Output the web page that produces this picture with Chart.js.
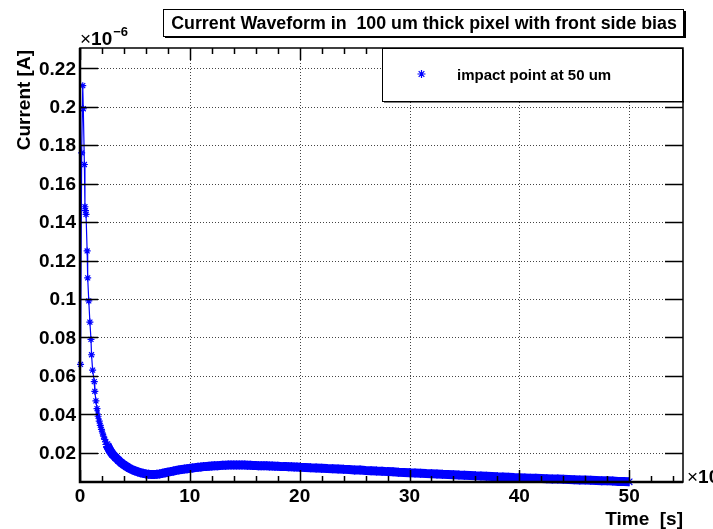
<!DOCTYPE html>
<html>
<head>
<meta charset="utf-8">
<script src="https://cdn.jsdelivr.net/npm/chart.js@4"></script>
<style>
  html, body { margin: 0; padding: 0; background: #fff; }
  #wrap { width: 713px; height: 529px; }
</style>
</head>
<body>
<div id="wrap"><canvas id="waveChart" width="713" height="529"></canvas></div>
<script>
// values as shown on the axes: time in units of 1e-9 s, current in units of 1e-6 A
const chartTitle = "Current Waveform in  100 um thick pixel with front side bias";
const seriesLabel = "impact point at 50 um";

const times = [
  0.05, 0.15, 0.25, 0.30, 0.40, 0.45, 0.50, 0.55, 0.65, 0.70,
  0.80, 0.90, 1.00, 1.05, 1.15, 1.30, 1.35, 1.45, 1.55, 1.65,
  1.75, 1.85, 1.95, 2.05, 2.15, 2.25, 2.35, 2.45, 2.55, 2.65,
  2.75, 2.85, 2.95,
  3.25, 3.50, 3.75, 4.00, 4.25, 4.50, 4.75, 5.00, 5.25, 5.50,
  5.75, 6.00, 6.25, 6.50, 6.75, 7.00, 7.25, 7.50, 7.75, 8.00,
  8.25, 8.50, 8.75, 9.00, 9.25, 9.50, 9.75, 10.0, 10.25, 10.5,
  10.75, 11.0, 11.25, 11.5, 11.75, 12.0, 12.25, 12.5, 12.75, 13.0,
  13.25, 13.5, 13.75, 14.0, 14.25, 14.5, 14.75, 15.0, 15.25, 15.5,
  15.75, 16.0, 16.25, 16.5, 16.75, 17.0, 17.25, 17.5, 17.75, 18.0,
  18.25, 18.5, 18.75, 19.0, 19.25, 19.5, 19.75, 20.0,
  20.5, 21.0, 21.5, 22.0, 22.5, 23.0, 23.5, 24.0, 24.5, 25.0,
  25.5, 26.0, 26.5, 27.0, 27.5, 28.0, 28.5, 29.0, 29.5, 30.0,
  30.5, 31.0, 31.5, 32.0, 32.5, 33.0, 33.5, 34.0, 34.5, 35.0,
  35.5, 36.0, 36.5, 37.0, 37.5, 38.0, 38.5, 39.0, 39.5, 40.0,
  40.5, 41.0, 41.5, 42.0, 42.5, 43.0, 43.5, 44.0, 44.5, 45.0,
  45.5, 46.0, 46.5, 47.0, 47.5, 48.0, 48.5, 49.0, 49.5, 50.0
];

const currents = [
  0.066, 0.176, 0.211, 0.199, 0.170, 0.148, 0.146, 0.144, 0.125, 0.111,
  0.099, 0.088, 0.079, 0.071, 0.063, 0.057, 0.052, 0.047, 0.043, 0.039,
  0.0365, 0.0343, 0.0322, 0.0303, 0.0286, 0.0270, 0.0256, 0.0243, 0.0231, 0.0220,
  0.0210, 0.0201, 0.0193,
  0.0175, 0.0161, 0.0148, 0.0137, 0.0128, 0.0119, 0.0112, 0.0106, 0.0101, 0.0096,
  0.0093, 0.0090, 0.0088, 0.0087, 0.0087, 0.0088, 0.0090, 0.0093, 0.0096, 0.0099,
  0.0102, 0.0105, 0.0108, 0.0111, 0.0113, 0.0115, 0.0117, 0.0119, 0.0121, 0.0123,
  0.0125, 0.0126, 0.0128, 0.0129, 0.0130, 0.0131, 0.0132, 0.0133, 0.0134, 0.0135,
  0.0135, 0.0136, 0.0136, 0.0136, 0.0136, 0.0136, 0.0136, 0.0136, 0.0135, 0.0135,
  0.0134, 0.0134, 0.0133, 0.0133, 0.0132, 0.0132, 0.0131, 0.0131, 0.0130, 0.0130,
  0.0129, 0.0128, 0.0128, 0.0127, 0.0127, 0.0126, 0.0126, 0.0125,
  0.0124, 0.0122, 0.0121, 0.0120, 0.0118, 0.0117, 0.0116, 0.0114, 0.0113, 0.0111,
  0.0110, 0.0108, 0.0107, 0.0105, 0.0104, 0.0102, 0.0101, 0.0099, 0.0098, 0.0096,
  0.0095, 0.0094, 0.0092, 0.0091, 0.0090, 0.0088, 0.0087, 0.0086, 0.0084, 0.0083,
  0.0082, 0.0080, 0.0079, 0.0078, 0.0077, 0.0075, 0.0074, 0.0073, 0.0071, 0.0070,
  0.0069, 0.0068, 0.0067, 0.0066, 0.0065, 0.0064, 0.0063, 0.0062, 0.0061, 0.0060,
  0.0059, 0.0058, 0.0057, 0.0056, 0.0055, 0.0054, 0.0053, 0.0051, 0.0050, 0.0049
];

const xTicks = [0, 10, 20, 30, 40, 50];
const xMinorTicks = [2, 4, 6, 8, 12, 14, 16, 18, 22, 24, 26, 28, 32, 34, 36, 38, 42, 44, 46, 48, 52, 54];
const yTicks = [0.02, 0.04, 0.06, 0.08, 0.1, 0.12, 0.14, 0.16, 0.18, 0.2, 0.22];
const yTickLabels = ["0.02", "0.04", "0.06", "0.08", "0.1", "0.12", "0.14", "0.16", "0.18", "0.2", "0.22"];

const FONT = '"Liberation Sans", Arial, Helvetica, sans-serif';
const BLUE = '#0000ff';

const points = times.map((t, i) => ({ x: t, y: currents[i] }));

function drawStar(ctx, x, y, r) {
  ctx.beginPath();
  ctx.moveTo(x - r, y); ctx.lineTo(x + r, y);
  ctx.moveTo(x, y - r); ctx.lineTo(x, y + r);
  const d = r * 0.707;
  ctx.moveTo(x - d, y - d); ctx.lineTo(x + d, y + d);
  ctx.moveTo(x - d, y + d); ctx.lineTo(x + d, y - d);
  ctx.stroke();
}

// ROOT style frame, grid, inward ticks, labels, title and legend
const rootFrame = {
  id: 'rootFrame',
  beforeDatasetsDraw(chart) {
    const { ctx, chartArea: a, scales: { x, y } } = chart;
    ctx.save();
    ctx.strokeStyle = '#444';
    ctx.lineWidth = 1;
    ctx.setLineDash([1, 2]);
    xTicks.forEach(v => {
      if (v === 0) return;
      const px = Math.round(x.getPixelForValue(v)) + 0.5;
      ctx.beginPath(); ctx.moveTo(px, a.top); ctx.lineTo(px, a.bottom); ctx.stroke();
    });
    yTicks.forEach(v => {
      const py = Math.round(y.getPixelForValue(v)) + 0.5;
      ctx.beginPath(); ctx.moveTo(a.left, py); ctx.lineTo(a.right, py); ctx.stroke();
    });
    ctx.restore();
  },
  afterDatasetsDraw(chart) {
    const { ctx, chartArea: a, scales: { x, y } } = chart;
    ctx.save();
    ctx.strokeStyle = '#000';
    ctx.fillStyle = '#000';

    // frame
    ctx.lineWidth = 1.5;
    ctx.strokeRect(a.left, a.top, a.right - a.left, a.bottom - a.top);
    ctx.lineWidth = 2.5;
    ctx.beginPath();
    ctx.moveTo(a.left, a.top); ctx.lineTo(a.left, a.bottom); ctx.lineTo(a.right, a.bottom);
    ctx.stroke();

    // ticks
    ctx.lineWidth = 1.5;
    xTicks.forEach(v => {
      const px = Math.round(x.getPixelForValue(v)) + 0.5;
      ctx.beginPath();
      ctx.moveTo(px, a.bottom); ctx.lineTo(px, a.bottom - 12);
      ctx.moveTo(px, a.top); ctx.lineTo(px, a.top + 12);
      ctx.stroke();
    });
    xMinorTicks.forEach(v => {
      const px = Math.round(x.getPixelForValue(v)) + 0.5;
      ctx.beginPath();
      ctx.moveTo(px, a.bottom); ctx.lineTo(px, a.bottom - 6);
      ctx.moveTo(px, a.top); ctx.lineTo(px, a.top + 6);
      ctx.stroke();
    });
    yTicks.forEach(v => {
      const py = Math.round(y.getPixelForValue(v)) + 0.5;
      ctx.beginPath();
      ctx.moveTo(a.left, py); ctx.lineTo(a.left + 18, py);
      ctx.moveTo(a.right, py); ctx.lineTo(a.right - 18, py);
      ctx.stroke();
    });

    // tick labels
    ctx.font = 'bold 19px ' + FONT;
    ctx.textAlign = 'right';
    ctx.textBaseline = 'middle';
    yTicks.forEach((v, i) => {
      ctx.fillText(yTickLabels[i], a.left - 4, y.getPixelForValue(v) + 1);
    });
    ctx.textAlign = 'center';
    ctx.textBaseline = 'top';
    xTicks.forEach(v => {
      ctx.fillText(String(v), x.getPixelForValue(v), a.bottom + 5);
    });

    // axis titles
    ctx.textAlign = 'right';
    ctx.textBaseline = 'alphabetic';
    ctx.fillText('Time  [s]', a.right, 525);
    ctx.save();
    ctx.translate(30, 50);
    ctx.rotate(-Math.PI / 2);
    ctx.fillText('Current [A]', 0, 0);
    ctx.restore();

    // exponents
    ctx.textAlign = 'left';
    ctx.font = '19px ' + FONT;
    ctx.fillText('\u00d7', a.left, 45);
    let w = ctx.measureText('\u00d7').width;
    ctx.font = 'bold 19px ' + FONT;
    ctx.fillText('10', a.left + w, 45);
    let w2 = ctx.measureText('10').width;
    ctx.font = 'bold 13px ' + FONT;
    ctx.fillText('\u22126', a.left + w + w2 + 1, 36);

    ctx.font = '19px ' + FONT;
    ctx.fillText('\u00d7', a.right + 4, a.bottom + 1);
    w = ctx.measureText('\u00d7').width;
    ctx.font = 'bold 19px ' + FONT;
    ctx.fillText('10', a.right + 4 + w, a.bottom + 1);
    w2 = ctx.measureText('10').width;
    ctx.font = 'bold 13px ' + FONT;
    ctx.fillText('\u22129', a.right + 5 + w + w2, a.bottom - 8);

    // title box
    ctx.fillStyle = '#fff';
    ctx.fillRect(163, 9, 521, 28);
    ctx.fillStyle = '#000';
    ctx.fillRect(165, 36, 521, 2);
    ctx.fillRect(684, 11, 2, 27);
    ctx.lineWidth = 1;
    ctx.strokeRect(163.5, 9.5, 520, 27);
    ctx.font = 'bold 15px ' + FONT;
    const tw = ctx.measureText(chartTitle).width;
    const ts = 15 * 506 / tw;
    ctx.font = 'bold ' + ts.toFixed(2) + 'px ' + FONT;
    ctx.textAlign = 'center';
    ctx.fillText(chartTitle, 424, 29);

    // legend box
    ctx.fillStyle = '#fff';
    ctx.fillRect(382, 48, 301, 54);
    ctx.fillStyle = '#000';
    ctx.fillRect(384, 101, 300, 1.5);
    ctx.fillRect(682, 50, 1.5, 52);
    ctx.strokeRect(382.5, 48.5, 300, 53);
    ctx.strokeStyle = BLUE;
    ctx.lineWidth = 1.2;
    drawStar(ctx, 421.5, 74, 4);
    ctx.fillStyle = '#000';
    ctx.textAlign = 'left';
    ctx.font = 'bold 15px ' + FONT;
    ctx.fillText(seriesLabel, 457, 80);
    ctx.restore();
  }
};

new Chart(document.getElementById('waveChart'), {
  type: 'scatter',
  data: {
    datasets: [{
      label: seriesLabel,
      data: points,
      showLine: true,
      borderColor: BLUE,
      backgroundColor: BLUE,
      borderWidth: 1.2,
      pointStyle: 'star',
      pointRadius: c => (c.parsed && c.parsed.x >= 2.4 ? 4.5 : 3.5),
      pointBorderWidth: 1.2,
      pointBorderColor: BLUE,
      clip: 8,
      segment: {
        borderWidth: c => (c.p0.parsed.x >= 2.4 ? 9 : (c.p0.parsed.x >= 1.5 ? 4 : 1.2))
      }
    }]
  },
  options: {
    responsive: false,
    animation: false,
    layout: { padding: { left: 80, right: 30, top: 48, bottom: 47 } },
    plugins: { legend: { display: false }, tooltip: { enabled: false } },
    scales: {
      x: { type: 'linear', display: false, min: 0, max: 54.9 },
      y: { type: 'linear', display: false, min: 0.0048, max: 0.2306 }
    }
  },
  plugins: [rootFrame]
});
</script>
</body>
</html>
